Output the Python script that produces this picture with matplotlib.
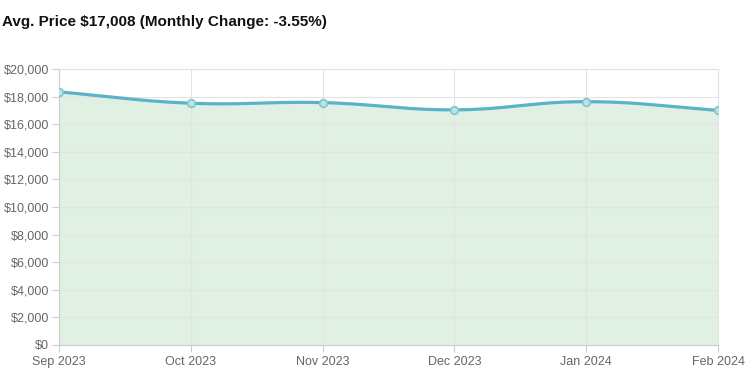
import numpy as np
import matplotlib.pyplot as plt

plt.rcParams['font.family'] = ['Liberation Sans', 'DejaVu Sans']

months = ['Sep 2023', 'Oct 2023', 'Nov 2023', 'Dec 2023', 'Jan 2024', 'Feb 2024']
prices = [18340, 17520, 17565, 17040, 17634, 17008]
title = "Avg. Price $17,008 (Monthly Change: -3.55%)"

line_color = '#5bb3c9'
fill_color = '#e0f0e3'
grid_color = '#e3e3e3'
text_color = '#666666'

fig = plt.figure(figsize=(7.48, 3.74), dpi=100)
ax = fig.add_axes([59 / 748, 29 / 374, 659 / 748, 276 / 374])

xpos = np.arange(len(months))
ax.set_xlim(xpos[0], xpos[-1])
ax.set_ylim(0, 20000)

# Chart.js style bezier smoothing (tension 0.4) computed in pixel space
fig.canvas.draw()
pts = ax.transData.transform(np.column_stack([xpos, prices]))
n = len(pts)
tension = 0.4
cps = []
for i in range(n):
    prev = pts[max(i - 1, 0)]
    cur = pts[i]
    nxt = pts[min(i + 1, n - 1)]
    d01 = np.hypot(*(cur - prev))
    d12 = np.hypot(*(nxt - cur))
    tot = d01 + d12
    s01 = d01 / tot if tot else 0
    s12 = d12 / tot if tot else 0
    cps.append((cur - tension * s01 * (nxt - prev), cur + tension * s12 * (nxt - prev)))

curve = []
t = np.linspace(0, 1, 40)[:, None]
for i in range(n - 1):
    p0, p3 = pts[i], pts[i + 1]
    p1, p2 = cps[i][1], cps[i + 1][0]
    seg = (1 - t) ** 3 * p0 + 3 * (1 - t) ** 2 * t * p1 + 3 * (1 - t) * t ** 2 * p2 + t ** 3 * p3
    curve.append(seg if i == 0 else seg[1:])
curve = ax.transData.inverted().transform(np.vstack(curve))

ax.fill_between(curve[:, 0], curve[:, 1], 0, color=fill_color, lw=0, zorder=1)
ax.plot(curve[:, 0], curve[:, 1], color=line_color, lw=2.3, zorder=3, solid_capstyle='round')
ax.plot(xpos, prices, 'o', ms=5.5, mfc='#bfe3df', mec='#7fc6d2', mew=1.2, zorder=4)

ax.set_xticks(xpos)
ax.set_xticklabels(months)
ax.set_yticks(np.arange(0, 20001, 2000))
ax.yaxis.set_major_formatter(plt.FuncFormatter(lambda v, p: f"${int(v):,}"))

ax.grid(True, color=grid_color, lw=0.8, zorder=0)
ax.tick_params(axis='both', colors='#cccccc', length=5, width=0.8,
               labelcolor=text_color, labelsize=9)
ax.tick_params(axis='y', pad=2)
ax.tick_params(axis='x', pad=3)
for s in ax.spines.values():
    s.set_color(grid_color)
    s.set_linewidth(0.8)
ax.spines['left'].set_color('#cccccc')
ax.spines['bottom'].set_color('#cccccc')

fig.text(2 / 748, 1 - 22 / 374, title, fontsize=11, fontweight='bold',
         color='#111111', va='center', ha='left')

fig.savefig('out.png', dpi=100)
